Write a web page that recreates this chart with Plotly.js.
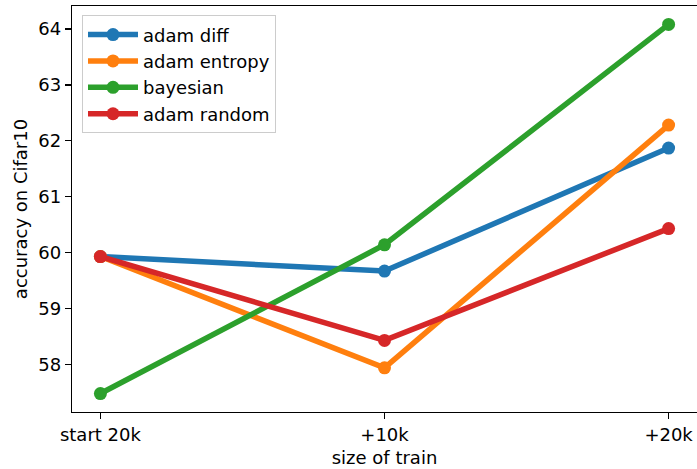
<!DOCTYPE html>
<html>
<head>
<meta charset="utf-8">
<script src="https://cdn.plot.ly/plotly-3.0.1.min.js"></script>
<style>html,body{margin:0;padding:0;background:#fff;}#chart{width:697px;height:469px;}</style>
</head>
<body>
<div id="chart"></div>
<script>
const categories = ["start 20k", "+10k", "+20k"];
const seriesNames = ["adam diff", "adam entropy", "bayesian", "adam random"];
const adamDiff = [59.93, 59.67, 61.87];
const adamEntropy = [59.93, 57.94, 62.28];
const bayesian = [57.48, 60.14, 64.08];
const adamRandom = [59.93, 58.43, 60.43];
const colors = ["#1f77b4", "#ff7f0e", "#2ca02c", "#d62728"];

const xIdx = categories.map((c, i) => i);
const allSeries = [adamDiff, adamEntropy, bayesian, adamRandom];
const traces = allSeries.map((ys, k) => ({
  x: xIdx, y: ys, name: seriesNames[k], type: "scatter", mode: "lines+markers",
  line: {color: colors[k], width: 5.5},
  marker: {color: colors[k], size: 13}
}));

const font = {family: "DejaVu Sans, sans-serif", size: 18, color: "#000"};
const layout = {
  width: 697, height: 469,
  margin: {l: 72, r: 0, t: 6, b: 57},
  paper_bgcolor: "#fff", plot_bgcolor: "#fff",
  font: font,
  showlegend: true,
  legend: {x: 0.016, y: 0.977, xanchor: "left", yanchor: "top",
    bgcolor: "rgba(255,255,255,0.8)", bordercolor: "#cccccc", borderwidth: 1,
    font: {family: "DejaVu Sans, sans-serif", size: 18, color: "#000"},
    itemwidth: 50, tracegroupgap: 0},
  xaxis: {
    range: [-0.1, 2.1], tickvals: xIdx, ticktext: categories,
    showgrid: false, zeroline: false, showline: true, linecolor: "#000", linewidth: 1.3, mirror: true,
    ticks: "outside", ticklen: 6, tickcolor: "#000", tickwidth: 1.3,
    title: {text: "size of train", font: font, standoff: 7}
  },
  yaxis: {
    range: [57.15, 64.41], tickvals: [58, 59, 60, 61, 62, 63, 64],
    showgrid: false, zeroline: false, showline: true, linecolor: "#000", linewidth: 1.3, mirror: true,
    ticks: "outside", ticklen: 6, tickcolor: "#000", tickwidth: 1.3,
    title: {text: "accuracy on Cifar10", font: font, standoff: 6}
  }
};
Plotly.newPlot("chart", traces, layout, {displayModeBar: false, staticPlot: true});
</script>
</body>
</html>
